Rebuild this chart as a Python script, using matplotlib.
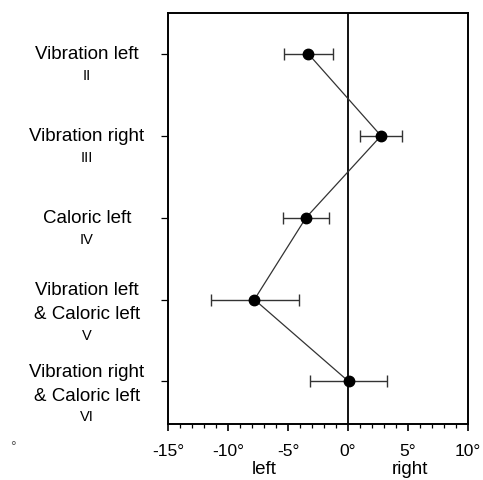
import matplotlib
matplotlib.use("Agg")
import matplotlib.pyplot as plt
import matplotlib.transforms as mtransforms
import numpy as np

plt.rcParams['font.family'] = ['Liberation Sans', 'DejaVu Sans']

conditions = [["Vibration left"], ["Vibration right"], ["Caloric left"],
              ["Vibration left", "& Caloric left"], ["Vibration right", "& Caloric left"]]
numerals = ["II", "III", "IV", "V", "VI"]
means = [-3.3, 2.75, -3.5, -7.8, 0.05]
err_lo = [2.0, 1.75, 1.9, 3.6, 3.2]
err_hi = [2.05, 1.75, 1.9, 3.7, 3.2]
xticks = [-15, -10, -5, 0, 5, 10]
xticklabels = ["-15°", "-10°", "-5°", "0°", "5°", "10°"]

fig = plt.figure(figsize=(4.83, 4.81), dpi=100)
ax = fig.add_axes([168/483, 1-425/481, 300/483, 411/481])

ypos = np.arange(1, len(means) + 1)
ax.errorbar(means, ypos, xerr=[err_lo, err_hi], fmt='o', color='black',
            ms=7.5, lw=1.0, capsize=4, capthick=1.0, ecolor='#333333', zorder=3)
ax.plot(means, ypos, color='#333333', lw=0.9, zorder=2)
ax.axvline(0, color='black', lw=1.3, zorder=1)

ax.set_xlim(-15, 10)
ax.set_ylim(5.52, 0.5)
ax.set_xticks(xticks)
ax.set_xticklabels(xticklabels, fontsize=12.5)
ax.set_xticks(np.arange(-15, 11, 1), minor=True)
ax.tick_params(axis='x', which='major', direction='out', length=5, width=1.2, pad=9)
ax.tick_params(axis='x', which='minor', direction='out', length=3, width=0.9)
ax.set_yticks(ypos)
ax.set_yticklabels([])
ax.tick_params(axis='y', direction='out', length=5, width=0.9)
for s in ax.spines.values():
    s.set_linewidth(1.4)

trans = mtransforms.blended_transform_factory(ax.transAxes, ax.transData)
xlab = (87 - 168) / 300
fs_main = 13.5
fs_num = 10.5
for y, lines, num in zip(ypos, conditions, numerals):
    if len(lines) == 1:
        ax.text(xlab, y, lines[0], transform=trans, ha='center', va='center', fontsize=fs_main)
        off = mtransforms.offset_copy(trans, fig=fig, x=0, y=-21, units='dots')
        ax.text(xlab, y, num, transform=off, ha='center', va='center', fontsize=fs_num)
    else:
        o1 = mtransforms.offset_copy(trans, fig=fig, x=0, y=10, units='dots')
        o2 = mtransforms.offset_copy(trans, fig=fig, x=0, y=-14, units='dots')
        o3 = mtransforms.offset_copy(trans, fig=fig, x=0, y=-35, units='dots')
        ax.text(xlab, y, lines[0], transform=o1, ha='center', va='center', fontsize=fs_main)
        ax.text(xlab, y, lines[1], transform=o2, ha='center', va='center', fontsize=fs_main)
        ax.text(xlab, y, num, transform=o3, ha='center', va='center', fontsize=fs_num)

fig.text(264/483, 1-470/481, "left", ha='center', va='center', fontsize=13.5)
fig.text(410/483, 1-470/481, "right", ha='center', va='center', fontsize=13.5)
fig.text(13/483, 1-447/481, "°", ha='center', va='center', fontsize=10, color='#555555')

fig.savefig("out.png", dpi=100)
